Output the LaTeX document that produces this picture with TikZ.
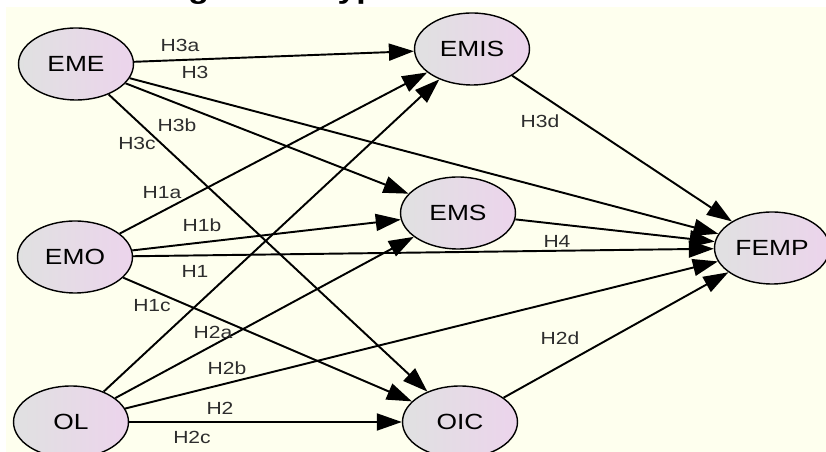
\documentclass[tikz,border=0pt]{standalone}
\usepackage{fontspec}
\setmainfont{Liberation Sans}[FakeStretch=1.2]
\usetikzlibrary{arrows.meta,shapes.geometric}
\definecolor{paper}{RGB}{254,255,238}
\definecolor{ovalgray}{RGB}{224,225,225}
\definecolor{ovalpink}{RGB}{236,212,236}
\definecolor{labgray}{RGB}{45,45,45}
\tikzset{
  construct/.style={ellipse,draw=black,line width=0.8pt,left color=ovalgray,right color=ovalpink,minimum width=2.3cm,minimum height=1.44cm,inner sep=0pt,font=\fontsize{12.5}{15}\selectfont},
  hyp/.style={font=\fontsize{10}{12}\selectfont,text=labgray,inner sep=0pt},
  link/.style={line width=1.1pt,-{Triangle[length=0.5cm,width=0.34cm]}},
  headline/.style={font=\fontsize{16}{19}\selectfont\bfseries,inner sep=0pt}
}
\begin{document}
\begin{tikzpicture}[x=0.02cm,y=-0.02cm]
  \useasboundingbox (0,0) rectangle (826,452);
  \fill[paper] (6,7) rectangle (826,452);
  \node[headline,anchor=base west] (ttl) at (158,-1) {Figure 1: Hypotheses Research Model};
  % constructs
  \node[construct] (EME) at (76,64) {EME};
  \node[construct] (EMO) at (75,257) {EMO};
  \node[construct] (OL) at (71,422) {OL};
  \node[construct] (EMIS) at (472,49) {EMIS};
  \node[construct] (EMS) at (458,213) {EMS};
  \node[construct] (OIC) at (460,422) {OIC};
  \node[construct] (FEMP) at (772,248) {FEMP};
  % paths
  \foreach \s in {EME,EMO,OL}
    \foreach \t in {EMIS,EMS,FEMP,OIC}
      \draw[link] (\s) -- (\t);
  \foreach \s in {EMIS,EMS,OIC} \draw[link] (\s) -- (FEMP);
  % hypotheses
  \node[hyp] (h3a) at (180,45) {H3a};
  \node[hyp] (h3) at (195,72) {H3};
  \node[hyp] (h3b) at (177,125) {H3b};
  \node[hyp] (h3c) at (137,143) {H3c};
  \node[hyp] (h1a) at (162,193) {H1a};
  \node[hyp] (h1b) at (202,225) {H1b};
  \node[hyp] (h1) at (195,271) {H1};
  \node[hyp] (h1c) at (152,306) {H1c};
  \node[hyp] (h2a) at (213,332) {H2a};
  \node[hyp] (h2b) at (227,368) {H2b};
  \node[hyp] (h2) at (220,408) {H2};
  \node[hyp] (h2c) at (192,437) {H2c};
  \node[hyp] (h3d) at (540,121) {H3d};
  \node[hyp] (h4) at (557,241) {H4};
  \node[hyp] (h2d) at (560,338) {H2d};
\end{tikzpicture}
\end{document}
